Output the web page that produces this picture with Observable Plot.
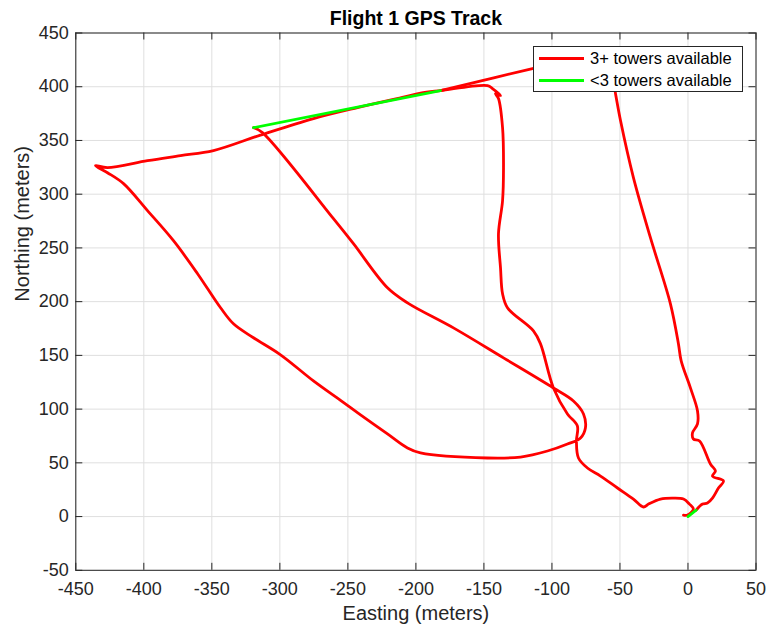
<!DOCTYPE html>
<html>
<head>
<meta charset="utf-8">
<script src="https://cdn.jsdelivr.net/npm/d3@7"></script>
<script src="https://cdn.jsdelivr.net/npm/@observablehq/plot@0.6"></script>
<style>
  body { margin: 0; background: #ffffff; }
  #wrap { position: relative; width: 770px; height: 631px; font-family: "Liberation Sans", Arial, Helvetica, sans-serif; color: #262626; }
  #legend { position: absolute; left: 533px; top: 46px; width: 210px; height: 46px; box-sizing: border-box; background: #ffffff; border: 1px solid #262626; }
  .row { display: flex; align-items: center; height: 22px; }
  .sw { width: 45px; height: 3px; margin-left: 5px; margin-right: 6px; }
  .lbl { font-size: 16.5px; color: #000; white-space: nowrap; }
</style>
</head>
<body>
<div id="wrap"></div>
<script>
// ---- Data ----
const title = "Flight 1 GPS Track";
const xLabel = "Easting (meters)";
const yLabel = "Northing (meters)";
const seriesNames = ["3+ towers available", "<3 towers available"];
const seriesColors = ["#ff0000", "#00ff00"];
const xTicks = [-450, -400, -350, -300, -250, -200, -150, -100, -50, 0, 50];
const yTicks = [-50, 0, 50, 100, 150, 200, 250, 300, 350, 400, 450];

// Track points in flight order (meters)
const easting = [
  0, 6, 10.7, 14.3, 18.0, 22.4, 26.1, 18.0, 20.2, 16.5,
  8.5, 4.0, 3.3, 7.0, 7.0, 1.8, -5.0, -7.0, -12.9, -27.6,
  -40.1, -49.6, -53.3, -59, -114.3, -181.9, -319.4, -312.8, -260.6, -245.9,
  -220.9, -206.2, -172.4, -135.6, -98.9, -84.2, -76.8, -75.4, -79.0, -88.6,
  -103.3, -123.1, -147.4, -196.6, -206.2, -220.9, -240.7, -255.4, -275.3, -299.5,
  -319.4, -334.1, -343.6, -360.5, -378.2, -397.3, -414.9, -426.7, -435.5, -426.7,
  -397.3, -373.0, -348.8, -314.3, -275.3, -242.9, -210.0, -196.6, -181.9, -147.4,
  -143.7, -137.8, -141.5, -139.3, -136.3, -135.6, -136.3, -139.3, -137.8, -136.3,
  -132.7, -113.6, -108.4, -98.9, -88.6, -81.3, -82.0, -80.5, -73.9, -64.3,
  -51.8, -40.1, -32.7, -29.0, -20.2, -10.7, -3.3, 1.1, 4.0, -0.4,
  -3.3
];
const northing = [
  0, 6, 11.6, 12.6, 17.2, 26.6, 33.1, 37.7, 42.4, 48.9,
  70.3, 72.2, 77.8, 86.2, 98.3, 119.7, 144.9, 160.7, 198.0, 259.5,
  315.4, 368.5, 393.6, 433, 416.9, 396.4, 361.9, 357.3, 277.2, 253.9,
  212.9, 198.9, 175.6, 147.7, 119.7, 107.6, 95.5, 82.5, 73.2, 67.5,
  61.0, 55.4, 54.5, 59.2, 63.8, 76.9, 94.6, 108.1, 126.2, 150.5,
  166.4, 179.4, 194.3, 226.0, 256.7, 284.7, 309.8, 320.0, 326.6, 324.7,
  331.2, 335.9, 340.6, 355.0, 370.4, 380.6, 390.0, 394.0, 396.4, 401.1,
  398.3, 391.8, 393.6, 389.0, 361.9, 324.6, 293.9, 263.2, 231.5, 207.3,
  194.3, 172.8, 160.7, 119.7, 95.5, 84.3, 70.3, 54.5, 45.2, 37.7,
  26.6, 16.3, 8.9, 11.6, 16.3, 17.2, 16.3, 11.6, 7.0, 1.4,
  1.4
];
// Segments that start at these point indices were flown with <3 towers
const lowTowerSegmentStarts = [0, 25];

// ---- Build line segments ----
const rows = [];
let group = -1, prev = null;
for (let i = 0; i < easting.length - 1; i++) {
  const s = lowTowerSegmentStarts.includes(i) ? 1 : 0;
  if (s !== prev) { group++; prev = s; rows.push({e: easting[i], n: northing[i], g: group, s}); }
  rows.push({e: easting[i + 1], n: northing[i + 1], g: group, s});
}

const W = 770, H = 631;
const mL = 75.3, mR = 14.5, mT = 32.5, mB = 61.2;
const fw = W - mL - mR, fh = H - mT - mB;
const axisColor = "#262626";
const fmt = d => String(d);

const chart = Plot.plot({
  width: W, height: H,
  marginLeft: mL, marginRight: mR, marginTop: mT, marginBottom: mB,
  style: { fontFamily: '"Liberation Sans", Arial, Helvetica, sans-serif', color: axisColor, background: "#ffffff", overflow: "visible" },
  x: { domain: [xTicks[0], xTicks[xTicks.length - 1]], label: null },
  y: { domain: [yTicks[0], yTicks[yTicks.length - 1]], label: null },
  marks: [
    Plot.gridX(xTicks, { stroke: "#dfdfdf", strokeOpacity: 1, strokeWidth: 1 }),
    Plot.gridY(yTicks, { stroke: "#dfdfdf", strokeOpacity: 1, strokeWidth: 1 }),
    Plot.line(rows.filter(r => r.s === 0), { x: "e", y: "n", z: "g", curve: "catmull-rom", stroke: seriesColors[0], strokeWidth: 2.8, strokeLinejoin: "round", strokeLinecap: "round" }),
    Plot.line(rows.filter(r => r.s === 1), { x: "e", y: "n", z: "g", stroke: seriesColors[1], strokeWidth: 2.8, strokeLinejoin: "round", strokeLinecap: "round" }),
    Plot.frame({ stroke: axisColor, strokeWidth: 1 }),
    Plot.tickX(xTicks, { x: d => d, insetTop: fh - 7, stroke: axisColor }),
    Plot.tickX(xTicks, { x: d => d, insetBottom: fh - 7, stroke: axisColor }),
    Plot.tickY(yTicks, { y: d => d, insetRight: fw - 7, stroke: axisColor }),
    Plot.tickY(yTicks, { y: d => d, insetLeft: fw - 7, stroke: axisColor }),
    Plot.axisX({ ticks: xTicks, tickSize: 0, tickPadding: 12, tickFormat: fmt, fontSize: 18, label: null }),
    Plot.axisY({ ticks: yTicks, tickSize: 0, tickPadding: 7, tickFormat: fmt, fontSize: 18, label: null }),
    Plot.text([xLabel], { text: d => d, frameAnchor: "bottom", dy: 43, lineAnchor: "middle", fontSize: 20, fill: axisColor }),
    Plot.text([yLabel], { text: d => d, frameAnchor: "left", dx: -53, rotate: -90, lineAnchor: "middle", fontSize: 20, fill: axisColor }),
    Plot.text([title], { text: d => d, frameAnchor: "top", dy: -14.5, lineAnchor: "middle", fontSize: 19.5, fontWeight: "bold", fill: "#000000" })
  ]
});

const wrap = document.getElementById("wrap");
wrap.appendChild(chart);

// ---- Legend ----
const legend = document.createElement("div");
legend.id = "legend";
seriesNames.forEach((name, i) => {
  const row = document.createElement("div");
  row.className = "row";
  const sw = document.createElement("div");
  sw.className = "sw";
  sw.style.background = seriesColors[i];
  const lbl = document.createElement("span");
  lbl.className = "lbl";
  lbl.textContent = name;
  row.appendChild(sw);
  row.appendChild(lbl);
  legend.appendChild(row);
});
wrap.appendChild(legend);
</script>
</body>
</html>
